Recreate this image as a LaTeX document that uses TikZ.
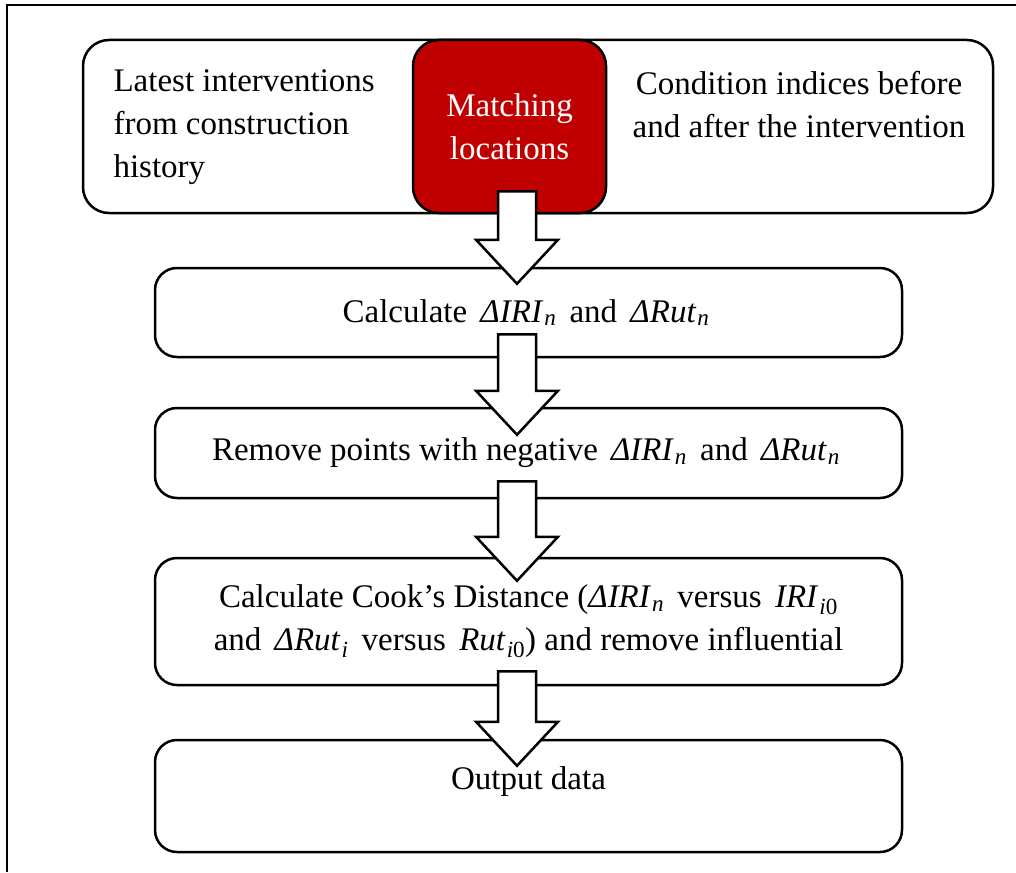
\documentclass[tikz,border=0pt]{standalone}
\usepackage{fontspec}
\setmainfont{Liberation Serif}
\usetikzlibrary{calc}
\definecolor{matchred}{HTML}{C00000}

% italic variable with subscript (bare, and with room round it)
\newcommand\mvbare[2]{\textit{#1}\kern1pt\textsubscript{\textit{#2}}}
\newcommand\mv[2]{\hspace{5pt}\mvbare{#1}{#2}\hspace{5pt}}
% block arrow from one box down into the next
\newcommand\flowarrow[4]{%
  \draw[blockarr] let \p1=(#1.south), \p2=(#2.north), \p3=(spine) in
    ({\x3-19pt},{\y1+#3}) -- ({\x3+19pt},{\y1+#3})
    -- ({\x3+19pt},{\y2-#4+44pt}) -- ({\x3+41pt},{\y2-#4+44pt})
    -- ({\x3},{\y2-#4})
    -- ({\x3-41pt},{\y2-#4+44pt}) -- ({\x3-19pt},{\y2-#4+44pt}) -- cycle;}

\begin{document}
\begin{tikzpicture}[x=1pt,y=-1pt,font=\rmfamily\fontsize{33}{43}\selectfont]
    \tikzset{rounded/.style={draw,rectangle,rounded corners=22pt,line width=2.5pt,minimum width=747pt,inner sep=0pt,align=center},
      blockarr/.style={draw,fill=white,line width=2.5pt,line join=miter}}
    \useasboundingbox (0,0) rectangle (1016,872);
    \draw[line width=2.5pt] (7,872) -- (7,5) -- (1016,5);
    \coordinate (spine) at (517,0);
    % input row
    \node[rounded,rounded corners=26pt,minimum width=910pt,minimum height=173pt] (inputs) at (538,126.5) {};
    \node[rounded,rounded corners=26pt,fill=matchred,text=white,minimum width=193pt,minimum height=173pt] (match) at (509.5,126.5) {Matching\\locations};
    \node[anchor=west,align=left] (hist) at (110,127) {Latest interventions\\from construction\\history};
    \node[align=center] (cond) at (799,104.5) {Condition indices before\\and after the intervention};
    % steps
    \node[rounded,minimum height=89pt] (calc) at (528.5,312.5) {Calculate \mv{ΔIRI}{n} and \mv{ΔRut}{n}};
    \node[rounded,minimum height=90pt] (negs) at (528.5,453) {Remove points with negative \mv{ΔIRI}{n} and \mv{ΔRut}{n}};
    \node[rounded,minimum height=127pt] (cook) at (528.5,621.5) {Calculate Cook’s Distance (\mvbare{ΔIRI}{n}\hspace{5pt} versus \mv{IRI}{i\textup{0}}\\and \mv{ΔRut}{i} versus \hspace{5pt}\mvbare{Rut}{i\textup{0}}) and remove influential};
    \node[rounded,minimum height=112pt] (out) at (528.5,796) {};
    \node (outtxt) at ([yshift=14pt]out.center) {Output data};
    % arrows
    \flowarrow{match}{calc}{23pt}{17pt}
    \flowarrow{calc}{negs}{24pt}{28pt}
    \flowarrow{negs}{cook}{18pt}{24pt}
    \flowarrow{cook}{out}{15pt}{27pt}
  \end{tikzpicture}
\end{document}
